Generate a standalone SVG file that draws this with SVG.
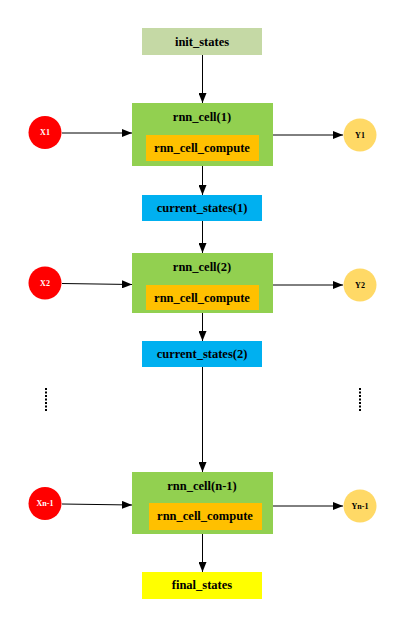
<svg xmlns="http://www.w3.org/2000/svg" width="414" height="622" viewBox="0 0 414 622">
<style>
.t{font-family:"Liberation Serif","Times New Roman",serif;font-weight:bold;font-size:12.5px;fill:#000;text-anchor:middle}
.c{font-family:"Liberation Serif","Times New Roman",serif;font-weight:bold;font-size:8px;text-anchor:middle}
.e{stroke:#000;stroke-width:1;fill:none}
</style>
<defs>
<marker id="a" markerWidth="10" markerHeight="8" refX="10" refY="4" orient="auto" markerUnits="userSpaceOnUse">
<path d="M0,0 L10,4 L0,8 Z" fill="#000"/>
</marker>
</defs>
<rect width="414" height="622" fill="#fff"/>
<g id="connectors">
<line class="e" x1="202.5" y1="55" x2="202.5" y2="103" marker-end="url(#a)"/>
<line class="e" x1="202.5" y1="166" x2="202.5" y2="195" marker-end="url(#a)"/>
<line class="e" x1="202.5" y1="221" x2="202.5" y2="253" marker-end="url(#a)"/>
<line class="e" x1="202.5" y1="313" x2="202.5" y2="341" marker-end="url(#a)"/>
<line class="e" x1="202.5" y1="367" x2="202.5" y2="472" marker-end="url(#a)"/>
<line class="e" x1="202.5" y1="534" x2="202.5" y2="572" marker-end="url(#a)"/>
<line class="e" x1="62" y1="133" x2="132" y2="133" marker-end="url(#a)"/>
<line class="e" x1="273" y1="135" x2="343" y2="135" marker-end="url(#a)"/>
<line class="e" x1="62" y1="283.5" x2="132" y2="284.5" marker-end="url(#a)"/>
<line class="e" x1="273" y1="285" x2="343" y2="285" marker-end="url(#a)"/>
<line class="e" x1="62" y1="504" x2="132" y2="505" marker-end="url(#a)"/>
<line class="e" x1="273" y1="506" x2="343" y2="506" marker-end="url(#a)"/>
<line x1="46" y1="388" x2="46" y2="411" stroke="#000" stroke-width="2" stroke-dasharray="2,1.5"/>
<line x1="360" y1="388" x2="360" y2="411" stroke="#000" stroke-width="2" stroke-dasharray="2,1.5"/>
</g>
<g id="init_states">
<rect x="142" y="28" width="120" height="27" fill="#c5d9a5"/>
<text class="t" x="202" y="46">init_states</text>
</g>
<g id="rnn_cell_1">
<rect x="132" y="103" width="141" height="63" fill="#92d050"/>
<text class="t" x="202" y="121">rnn_cell(1)</text>
<rect x="146" y="135" width="113" height="26" fill="#ffc000"/>
<text class="t" x="202" y="152">rnn_cell_compute</text>
</g>
<g id="current_states_1">
<rect x="142" y="195" width="120" height="26" fill="#00b0f0"/>
<text class="t" x="202" y="212">current_states(1)</text>
</g>
<g id="rnn_cell_2">
<rect x="132" y="253" width="141" height="60" fill="#92d050"/>
<text class="t" x="202" y="271">rnn_cell(2)</text>
<rect x="146" y="285" width="113" height="25" fill="#ffc000"/>
<text class="t" x="202" y="302">rnn_cell_compute</text>
</g>
<g id="current_states_2">
<rect x="142" y="341" width="120" height="26" fill="#00b0f0"/>
<text class="t" x="202" y="358">current_states(2)</text>
</g>
<g id="rnn_cell_n1">
<rect x="132" y="472" width="141" height="62" fill="#92d050"/>
<text class="t" x="202" y="490">rnn_cell(n-1)</text>
<rect x="149" y="503" width="113" height="27" fill="#ffc000"/>
<text class="t" x="205" y="520">rnn_cell_compute</text>
</g>
<g id="final_states">
<rect x="142" y="572" width="120" height="27" fill="#ffff00"/>
<text class="t" x="202" y="589">final_states</text>
</g>
<g id="X1"><circle cx="45" cy="132.5" r="16.5" fill="#ff0000"/><text class="c" x="45" y="135.3" fill="#fff">X1</text></g>
<g id="Y1"><circle cx="360" cy="135" r="16.5" fill="#ffd966"/><text class="c" x="360" y="137.8" fill="#000">Y1</text></g>
<g id="X2"><circle cx="45" cy="283" r="16.5" fill="#ff0000"/><text class="c" x="45" y="285.8" fill="#fff">X2</text></g>
<g id="Y2"><circle cx="360" cy="285" r="16.5" fill="#ffd966"/><text class="c" x="360" y="287.8" fill="#000">Y2</text></g>
<g id="Xn1"><circle cx="45" cy="503.5" r="16.5" fill="#ff0000"/><text class="c" x="45" y="506.3" fill="#fff">Xn-1</text></g>
<g id="Yn1"><circle cx="360" cy="506" r="16.5" fill="#ffd966"/><text class="c" x="360" y="508.8" fill="#000">Yn-1</text></g>
</svg>
